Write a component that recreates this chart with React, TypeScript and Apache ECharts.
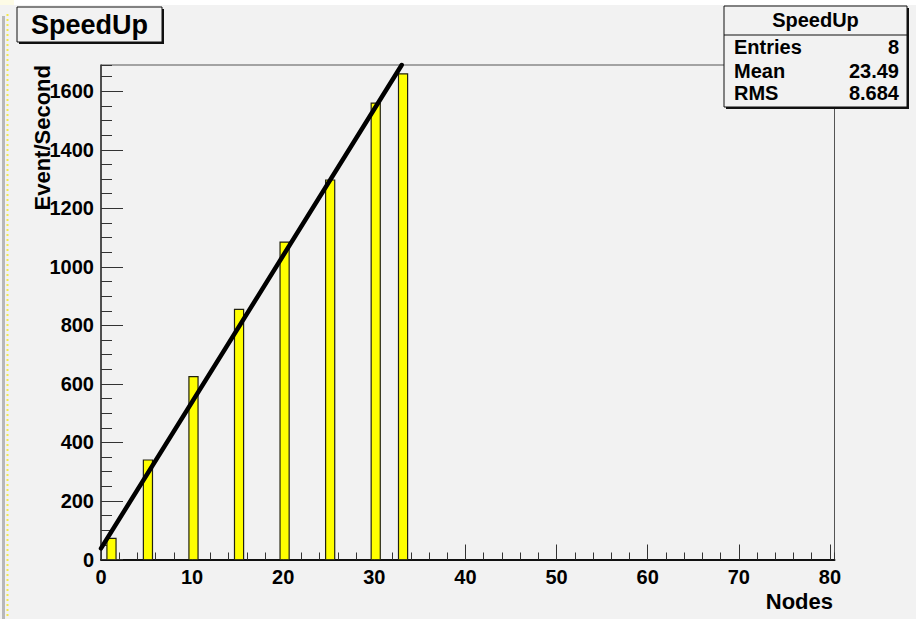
import React, { useEffect, useRef } from "react";
import * as echarts from "echarts";

// ---- data ----
const nodes = [1, 5, 10, 15, 20, 25, 30, 33];
const eventsPerSecond = [72, 340, 625, 855, 1085, 1297, 1560, 1660];
const lineNodes = [0, 33];
const lineValues = [38, 1690];
const histTitle = "SpeedUp";
const statLabels = ["Entries", "Mean", "RMS"];
const statValues = ["8", "23.49", "8.684"];
const xTitle = "Nodes";
const yTitle = "Event/Second";

// bin edges relative to the node value
const BIN_LOW = -0.35;
const BIN_HIGH = 0.65;

const BG = "#f2f2f2";
const FONT = "'Liberation Sans', Arial, Helvetica, sans-serif";

export default function App() {
  const ref = useRef<HTMLDivElement>(null);

  useEffect(() => {
    if (!ref.current) return;
    const chart = echarts.init(ref.current, null, { renderer: "svg" });

    const barData = nodes.map((n, i) => [n, eventsPerSecond[i]]);
    const lineData = lineNodes.map((n, i) => [n, lineValues[i]]);

    const statRowY = [47, 71, 93];

    const option: any = {
      animation: false,
      backgroundColor: BG,
      textStyle: { fontFamily: FONT },
      grid: {
        left: 101,
        right: 81.5,
        top: 65,
        bottom: 59.5,
        show: true,
        borderColor: "#555",
        borderWidth: 1,
        backgroundColor: "transparent",
      },
      xAxis: [
        {
          type: "value",
          min: 0,
          max: 80.5,
          interval: 10,
          axisLine: { show: true, onZero: false, lineStyle: { color: "#111", width: 2 } },
          axisTick: { show: true, inside: true, length: 15, lineStyle: { color: "#333", width: 1 } },
          axisLabel: {
            show: true,
            margin: 7,
            fontSize: 20,
            fontWeight: "bold",
            color: "#000",
            fontFamily: FONT,
            showMaxLabel: false,
            formatter: (v: number) => String(v),
          },
          splitLine: { show: false },
        },
        {
          type: "value",
          position: "bottom",
          min: 0,
          max: 80.5,
          interval: 2,
          axisLine: { show: false },
          axisTick: { show: true, inside: true, length: 7, lineStyle: { color: "#333", width: 1 } },
          axisLabel: { show: false },
          splitLine: { show: false },
        },
      ],
      yAxis: [
        {
          type: "value",
          min: 0,
          max: 1690,
          interval: 200,
          axisLine: { show: true, onZero: false, lineStyle: { color: "#333", width: 1.5 } },
          axisTick: { show: true, inside: true, length: 22, lineStyle: { color: "#333", width: 1 } },
          axisLabel: {
            show: true,
            margin: 7,
            fontSize: 20,
            fontWeight: "bold",
            color: "#000",
            fontFamily: FONT,
            showMaxLabel: false,
            formatter: (v: number) => String(v),
          },
          splitLine: { show: false },
        },
        {
          type: "value",
          position: "left",
          min: 0,
          max: 1690,
          interval: 50,
          axisLine: { show: false },
          axisTick: { show: true, inside: true, length: 11, lineStyle: { color: "#333", width: 1 } },
          axisLabel: { show: false },
          splitLine: { show: false },
        },
      ],
      series: [
        {
          type: "custom",
          xAxisIndex: 0,
          yAxisIndex: 0,
          data: barData,
          clip: true,
          renderItem: (params: any, api: any) => {
            const x = api.value(0);
            const v = api.value(1);
            const p0 = api.coord([x + BIN_LOW, 0]);
            const p1 = api.coord([x + BIN_HIGH, v]);
            return {
              type: "rect",
              shape: {
                x: p0[0],
                y: p1[1],
                width: p1[0] - p0[0],
                height: p0[1] - p1[1],
              },
              style: { fill: "#ffff00", stroke: "#222210", lineWidth: 1.2 },
            };
          },
          z: 2,
        },
        {
          type: "line",
          xAxisIndex: 0,
          yAxisIndex: 0,
          data: lineData,
          symbol: "none",
          clip: false,
          lineStyle: { color: "#000", width: 4.5, cap: "round" },
          z: 3,
        },
      ],
      graphic: [
        // screenshot edge artefacts
        { type: "rect", z: 50, shape: { x: 14, y: 0, width: 902, height: 5 }, style: { fill: "#ffffff" } },
        { type: "rect", z: 50, shape: { x: 0, y: 0, width: 14, height: 5 }, style: { fill: "#fdfbe6" } },
        { type: "rect", z: 50, shape: { x: 2, y: 16, width: 3, height: 603 }, style: { fill: "#b8b8b8" } },
        {
          type: "line",
          z: 50,
          shape: { x1: 7.5, y1: 14, x2: 7.5, y2: 619 },
          style: { stroke: "#f2e64a", lineWidth: 2, lineDash: [2, 3] },
        },
        // title box
        { type: "rect", z: 100, shape: { x: 19, y: 9, width: 145, height: 35 }, style: { fill: "#111" } },
        { type: "rect", z: 101, shape: { x: 17, y: 7, width: 145, height: 35 }, style: { fill: BG, stroke: "#111", lineWidth: 1 } },
        {
          type: "text",
          z: 102,
          x: 89.5,
          y: 25,
          style: {
            text: histTitle,
            font: `bold 27px ${FONT}`,
            fill: "#000",
            textAlign: "center",
            textVerticalAlign: "middle",
          },
        },
        // stats box
        { type: "rect", z: 100, shape: { x: 726, y: 8, width: 183, height: 101 }, style: { fill: "#111" } },
        { type: "rect", z: 101, shape: { x: 724, y: 6, width: 183, height: 101 }, style: { fill: BG, stroke: "#111", lineWidth: 1 } },
        { type: "line", z: 102, shape: { x1: 724, y1: 35, x2: 907, y2: 35 }, style: { stroke: "#111", lineWidth: 1 } },
        {
          type: "text",
          z: 102,
          x: 815.5,
          y: 20,
          style: {
            text: histTitle,
            font: `bold 20px ${FONT}`,
            fill: "#000",
            textAlign: "center",
            textVerticalAlign: "middle",
          },
        },
        ...statLabels.map((s, i) => ({
          type: "text",
          z: 102,
          x: 734,
          y: statRowY[i],
          style: {
            text: s,
            font: `bold 20px ${FONT}`,
            fill: "#000",
            textAlign: "left",
            textVerticalAlign: "middle",
          },
        })),
        ...statValues.map((s, i) => ({
          type: "text",
          z: 102,
          x: 899,
          y: statRowY[i],
          style: {
            text: s,
            font: `bold 20px ${FONT}`,
            fill: "#000",
            textAlign: "right",
            textVerticalAlign: "middle",
          },
        })),
        // axis titles
        {
          type: "text",
          z: 102,
          x: 833,
          y: 601,
          style: {
            text: xTitle,
            font: `bold 22px ${FONT}`,
            fill: "#000",
            textAlign: "right",
            textVerticalAlign: "middle",
          },
        },
        {
          type: "text",
          z: 102,
          x: 42,
          y: 65,
          rotation: Math.PI / 2,
          style: {
            text: yTitle,
            font: `bold 22px ${FONT}`,
            fill: "#000",
            textAlign: "right",
            textVerticalAlign: "middle",
          },
        },
      ],
    };

    chart.setOption(option);
    return () => chart.dispose();
  }, []);

  return (
    <div
      ref={ref}
      style={{ position: "fixed", left: 0, top: 0, width: 916, height: 619 }}
    />
  );
}
